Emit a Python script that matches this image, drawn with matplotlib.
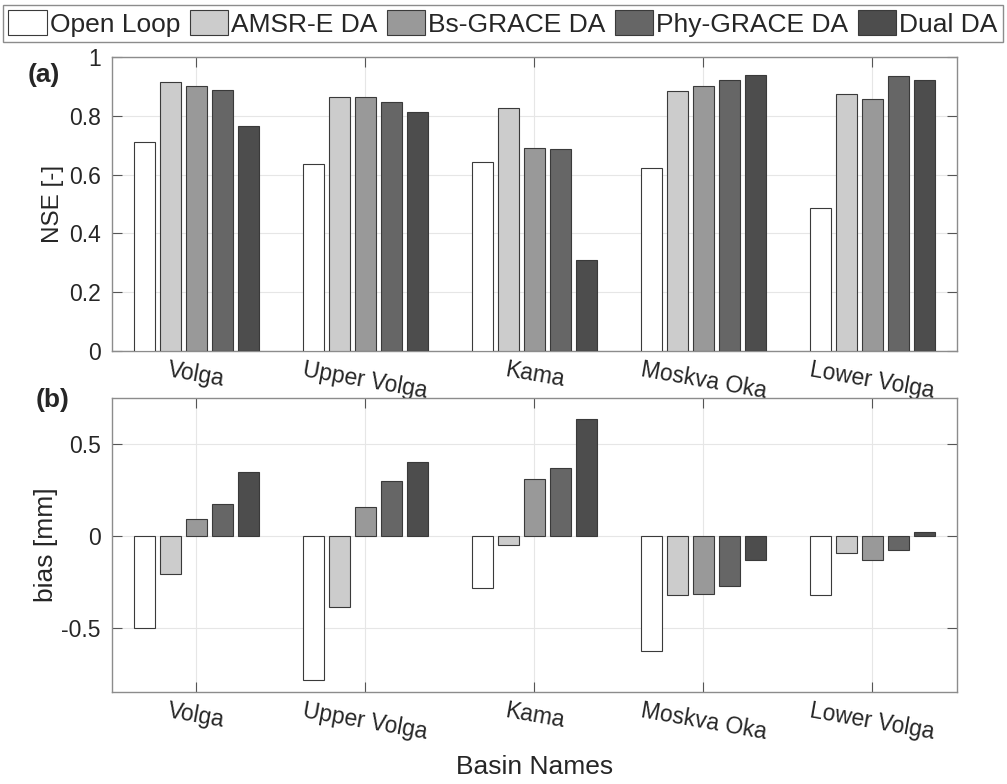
import numpy as np
import matplotlib
matplotlib.use("Agg")
from matplotlib import pyplot as plt

basins = ["Volga", "Upper Volga", "Kama", "Moskva Oka", "Lower Volga"]
runs = ["Open Loop", "AMSR-E DA", "Bs-GRACE DA", "Phy-GRACE DA", "Dual DA"]
fills = ["#ffffff", "#cccccc", "#999999", "#666666", "#4d4d4d"]

# NSE per basin, one list per run
nse_open = [0.711, 0.635, 0.644, 0.622, 0.486]
nse_amsr = [0.914, 0.865, 0.828, 0.885, 0.875]
nse_bs = [0.900, 0.864, 0.692, 0.903, 0.856]
nse_phy = [0.887, 0.847, 0.686, 0.923, 0.934]
nse_dual = [0.764, 0.813, 0.310, 0.939, 0.922]

# bias [mm] per basin
bias_open = [-0.500, -0.787, -0.285, -0.627, -0.323]
bias_amsr = [-0.205, -0.385, -0.051, -0.323, -0.094]
bias_bs = [0.089, 0.155, 0.309, -0.314, -0.134]
bias_phy = [0.171, 0.297, 0.368, -0.274, -0.078]
bias_dual = [0.346, 0.404, 0.638, -0.134, 0.019]

nse = [nse_open, nse_amsr, nse_bs, nse_phy, nse_dual]
bias = [bias_open, bias_amsr, bias_bs, bias_phy, bias_dual]

plt.rcParams["font.family"] = ["Liberation Sans", "DejaVu Sans"]
plt.rcParams["text.color"] = "#262626"
plt.rcParams["axes.labelcolor"] = "#262626"
plt.rcParams["xtick.color"] = "#262626"
plt.rcParams["ytick.color"] = "#262626"

fig = plt.figure(figsize=(10.07, 7.84), dpi=100)
ax1 = fig.add_axes([0.1112, 0.5523, 0.8391, 0.375])
ax2 = fig.add_axes([0.1112, 0.1173, 0.8391, 0.375])

x = np.arange(1, len(basins) + 1)
step = 0.153
width = 0.124


def grouped(ax, data):
    handles = []
    for i, vals in enumerate(data):
        h = ax.bar(x + (i - 2) * step, vals, width, color=fills[i],
                   edgecolor="#3a3a3a", linewidth=0.8, label=runs[i], zorder=3)
        handles.append(h)
    ax.set_xlim(0.5, 5.5)
    ax.set_xticks(x)
    ax.set_xticklabels(basins, rotation=-10, ha="center", fontsize=17)
    ax.grid(True, color="#e6e6e6", linewidth=0.8, zorder=0)
    ax.tick_params(direction="in", length=7, width=0.8, top=True, right=True,
                   labelsize=16.5, color="#555555")
    ax.tick_params(axis="x", pad=5)
    ax.tick_params(axis="y", pad=8)
    for s in ax.spines.values():
        s.set_color("#8c8c8c")
        s.set_linewidth(1.0)
    return handles


handles = grouped(ax1, nse)
ax1.set_ylim(0, 1)
ax1.set_yticks([0, 0.2, 0.4, 0.6, 0.8, 1])
ax1.set_yticklabels(["0", "0.2", "0.4", "0.6", "0.8", "1"])
ax1.set_ylabel("NSE [-]", fontsize=17.5)
ax1.yaxis.set_label_coords(-0.057, 0.5)

grouped(ax2, bias)
ax2.set_ylim(-0.85, 0.75)
ax2.set_yticks([-0.5, 0, 0.5])
ax2.set_yticklabels(["-0.5", "0", "0.5"])
ax2.set_ylabel("bias [mm]", fontsize=19)
ax2.yaxis.set_label_coords(-0.064, 0.5)
ax2.set_xlabel("Basin Names", fontsize=19, va="center")
ax2.xaxis.set_label_coords(0.5, -0.255)

fig.text(0.044, 0.904, "(a)", fontsize=19, fontweight="bold", ha="center", va="center")
fig.text(0.052, 0.490, "(b)", fontsize=19, fontweight="bold", ha="center", va="center")

leg = fig.legend(handles, runs, loc="lower left", ncol=5, mode="expand",
                 bbox_to_anchor=(0.003, 0.9464, 0.993, 0.051),
                 prop={"size": 19},
                 handlelength=1.45, handleheight=1.1, handletextpad=0.12,
                 columnspacing=0.25, borderpad=0.2, borderaxespad=0,
                 fancybox=False, edgecolor="#8c8c8c", framealpha=1)
leg.get_frame().set_linewidth(1.0)

fig.savefig("out.png", dpi=100)
